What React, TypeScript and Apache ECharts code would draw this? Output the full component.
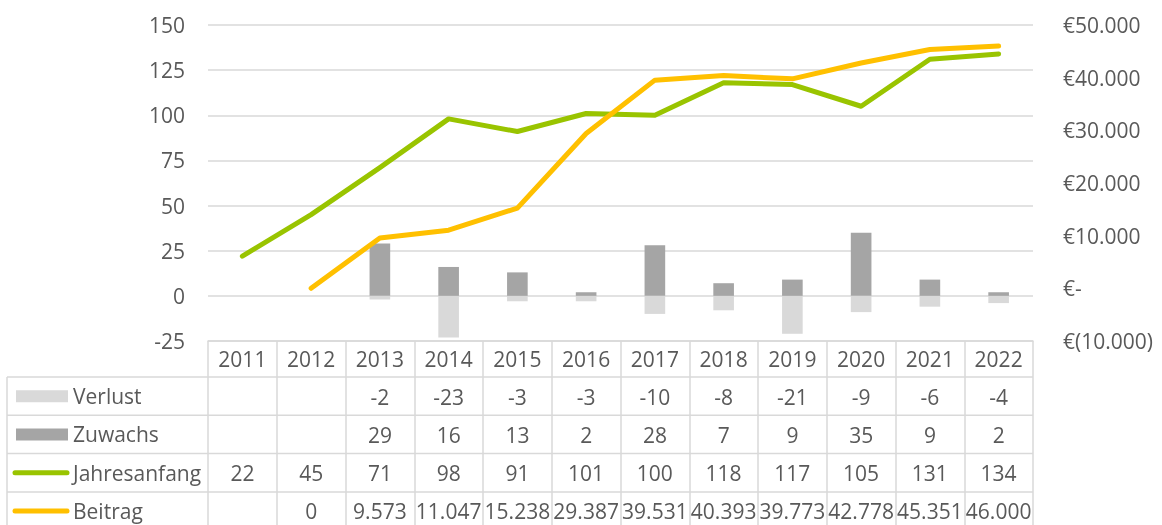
import React, { useEffect, useRef } from "react";
import * as echarts from "echarts";

const years = ["2011", "2012", "2013", "2014", "2015", "2016", "2017", "2018", "2019", "2020", "2021", "2022"];
const verlust: (number | null)[] = [null, null, -2, -23, -3, -3, -10, -8, -21, -9, -6, -4];
const zuwachs: (number | null)[] = [null, null, 29, 16, 13, 2, 28, 7, 9, 35, 9, 2];
const jahresanfang: (number | null)[] = [22, 45, 71, 98, 91, 101, 100, 118, 117, 105, 131, 134];
const beitrag: (number | null)[] = [null, 0, 9573, 11047, 15238, 29387, 39531, 40393, 39773, 42778, 45351, 46000];
const seriesNames = ["Verlust", "Zuwachs", "Jahresanfang", "Beitrag"];

const FONT = "Open Sans";
const TEXT = "#595959";
const BORDER = "#D9D9D9";
const C_VERLUST = "#D9D9D9";
const C_ZUWACHS = "#A5A5A5";
const C_JAHR = "#99C400";
const C_BEITRAG = "#FFC000";

const fmt = (n: number): string => {
  const neg = n < 0;
  const s = String(Math.abs(n)).replace(/\B(?=(\d{3})+(?!\d))/g, ".");
  return neg ? "-" + s : s;
};
const cell = (v: number | null) => (v == null ? " " : fmt(v));

export default function App() {
  const ref = useRef<HTMLDivElement>(null);
  useEffect(() => {
    if (!ref.current) return;
    const chart = echarts.init(ref.current, undefined, { renderer: "svg" });

    const TL = 7, PL = 208, PR = 1033, TT = 341, HDR = 36, RH = 38.3;
    const rowTop = (i: number) => TT + HDR + i * RH;
    const graphics: any[] = [];
    for (let i = 0; i < 4; i++) {
      graphics.push({
        type: "line",
        shape: { x1: TL, y1: rowTop(i), x2: PR, y2: rowTop(i) },
        style: { stroke: BORDER, lineWidth: 1.5 },
        silent: true,
      });
    }
    graphics.push({
      type: "line",
      shape: { x1: TL, y1: rowTop(0), x2: TL, y2: 530 },
      style: { stroke: BORDER, lineWidth: 1.5 },
      silent: true,
    });
    const keyColors = [C_VERLUST, C_ZUWACHS, C_JAHR, C_BEITRAG];
    seriesNames.forEach((name, i) => {
      const cy = rowTop(i) + RH / 2;
      if (i < 2) {
        graphics.push({
          type: "rect",
          shape: { x: 16, y: cy - 6, width: 52, height: 12 },
          style: { fill: keyColors[i] },
          silent: true,
        });
      } else {
        graphics.push({
          type: "line",
          shape: { x1: 15, y1: cy, x2: 67, y2: cy },
          style: { stroke: keyColors[i], lineWidth: 5, lineCap: "round" },
          silent: true,
        });
      }
      graphics.push({
        type: "text",
        x: 73,
        y: cy,
        style: {
          text: name,
          fontSize: 21,
          fontFamily: FONT,
          fill: TEXT,
          verticalAlign: "middle",
          align: "left",
        },
        silent: true,
      });
    });

    chart.setOption({
      animation: false,
      grid: {
        left: PL,
        right: 1162 - PR,
        top: 25,
        bottom: 525 - TT,
        containLabel: false,
        outerBoundsMode: "none",
      },
      xAxis: {
        type: "category",
        data: years,
        boundaryGap: true,
        axisLine: { show: true, onZero: false, lineStyle: { color: BORDER, width: 1.5 } },
        axisTick: { show: true, interval: 0, length: 190, lineStyle: { color: BORDER, width: 1.5 } },
        axisLabel: {
          interval: 0,
          margin: -1,
          fontSize: 21,
          fontFamily: FONT,
          color: TEXT,
          lineHeight: 38,
          formatter: (value: string, index: number) =>
            [value, cell(verlust[index]), cell(zuwachs[index]), cell(jahresanfang[index]), cell(beitrag[index])].join("\n"),
        },
        splitLine: { show: false },
      },
      yAxis: [
        {
          type: "value",
          min: -25,
          max: 150,
          interval: 25,
          axisLine: { show: false },
          axisTick: { show: false },
          axisLabel: { margin: 23, fontSize: 21, fontFamily: FONT, color: TEXT },
          splitLine: { show: true, lineStyle: { color: BORDER, width: 1.5 } },
        },
        {
          type: "value",
          min: -10000,
          max: 50000,
          interval: 10000,
          axisLine: { show: false },
          axisTick: { show: false },
          splitLine: { show: false },
          axisLabel: {
            margin: 30,
            fontSize: 21,
            fontFamily: FONT,
            color: TEXT,
            align: "left",
            formatter: (v: number) => (v === 0 ? "€-" : v < 0 ? `€(${fmt(-v)})` : `€${fmt(v)}`),
          },
        },
      ],
      series: [
        {
          name: "Verlust",
          type: "bar",
          stack: "a",
          data: verlust,
          barWidth: "30%",
          itemStyle: { color: C_VERLUST },
          yAxisIndex: 0,
        },
        {
          name: "Zuwachs",
          type: "bar",
          stack: "a",
          data: zuwachs,
          barWidth: "30%",
          itemStyle: { color: C_ZUWACHS },
          yAxisIndex: 0,
        },
        {
          name: "Jahresanfang",
          type: "line",
          data: jahresanfang,
          yAxisIndex: 0,
          symbol: "none",
          lineStyle: { color: C_JAHR, width: 5, cap: "round", join: "round" },
        },
        {
          name: "Beitrag",
          type: "line",
          data: beitrag,
          yAxisIndex: 1,
          symbol: "none",
          lineStyle: { color: C_BEITRAG, width: 5, cap: "round", join: "round" },
        },
      ],
      graphic: graphics,
    });
    return () => chart.dispose();
  }, []);
  return <div ref={ref} style={{ position: "fixed", left: 0, top: 0, width: 1162, height: 525 }} />;
}
